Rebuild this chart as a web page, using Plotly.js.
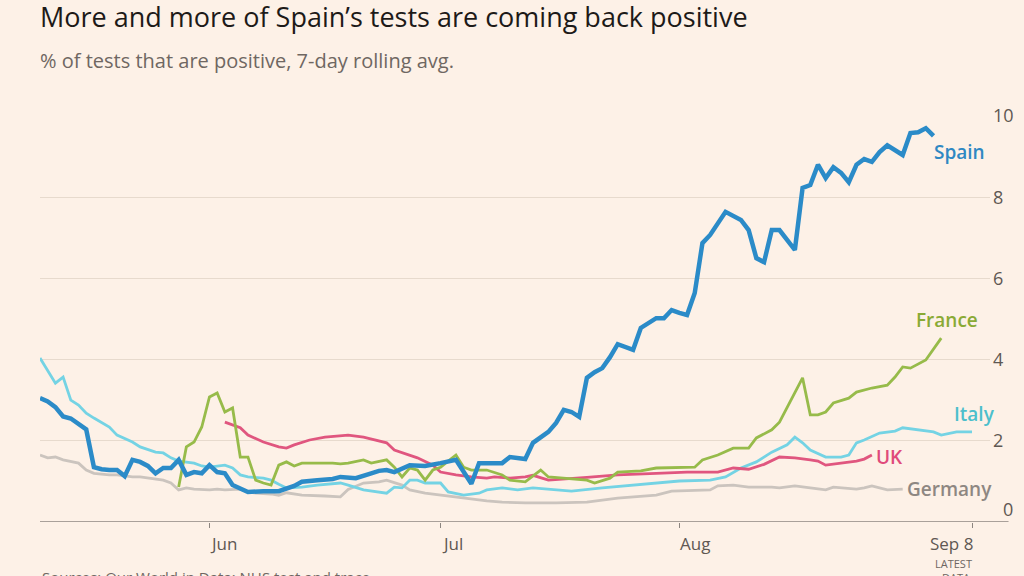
<!DOCTYPE html>
<html>
<head>
<meta charset="utf-8">
<script src="https://cdn.plot.ly/plotly-3.0.1.min.js"></script>
<style>
  html, body { margin: 0; padding: 0; background: #fdf1e7; }
  #chart { width: 1024px; height: 576px; }
</style>
</head>
<body>
<div id="chart"></div>
<script>
// ---------- DATA ----------
const spainDates = ["2020-05-10","2020-05-11","2020-05-12","2020-05-13","2020-05-14","2020-05-15","2020-05-16","2020-05-17","2020-05-18","2020-05-19","2020-05-20","2020-05-21","2020-05-22","2020-05-23","2020-05-24","2020-05-25","2020-05-26","2020-05-27","2020-05-28","2020-05-29","2020-05-30","2020-05-31","2020-06-01","2020-06-02","2020-06-03","2020-06-04","2020-06-06","2020-06-08","2020-06-10","2020-06-12","2020-06-13","2020-06-15","2020-06-17","2020-06-18","2020-06-20","2020-06-22","2020-06-23","2020-06-24","2020-06-25","2020-06-27","2020-06-29","2020-07-01","2020-07-03","2020-07-05","2020-07-06","2020-07-08","2020-07-09","2020-07-10","2020-07-12","2020-07-13","2020-07-14","2020-07-15","2020-07-16","2020-07-17","2020-07-18","2020-07-19","2020-07-20","2020-07-21","2020-07-22","2020-07-23","2020-07-24","2020-07-25","2020-07-26","2020-07-27","2020-07-28","2020-07-29","2020-07-30","2020-07-31","2020-08-01","2020-08-02","2020-08-03","2020-08-04","2020-08-05","2020-08-06","2020-08-07","2020-08-09","2020-08-10","2020-08-11","2020-08-12","2020-08-13","2020-08-14","2020-08-16","2020-08-17","2020-08-18","2020-08-19","2020-08-20","2020-08-21","2020-08-22","2020-08-23","2020-08-24","2020-08-25","2020-08-26","2020-08-27","2020-08-28","2020-08-29","2020-08-30","2020-08-31","2020-09-01","2020-09-02","2020-09-03"];
const spainValues = [3.05,2.97,2.83,2.6,2.55,2.4,2.28,1.35,1.3,1.28,1.28,1.13,1.53,1.48,1.38,1.2,1.33,1.33,1.53,1.16,1.23,1.2,1.4,1.23,1.2,0.91,0.74,0.76,0.76,0.89,0.99,1.03,1.06,1.11,1.08,1.2,1.26,1.28,1.23,1.4,1.38,1.45,1.53,0.94,1.45,1.45,1.45,1.6,1.55,1.95,2.07,2.22,2.44,2.76,2.71,2.59,3.55,3.69,3.79,4.06,4.38,4.31,4.24,4.78,4.9,5.02,5.02,5.22,5.15,5.1,5.64,6.87,7.07,7.36,7.64,7.44,7.19,6.5,6.4,7.19,7.19,6.7,8.23,8.3,8.8,8.47,8.74,8.6,8.37,8.8,8.94,8.87,9.11,9.28,9.16,9.04,9.58,9.6,9.7,9.51];

const italyDates = ["2020-05-10","2020-05-11","2020-05-12","2020-05-13","2020-05-14","2020-05-15","2020-05-16","2020-05-17","2020-05-18","2020-05-19","2020-05-20","2020-05-22","2020-05-23","2020-05-25","2020-05-26","2020-05-27","2020-05-28","2020-05-30","2020-05-31","2020-06-01","2020-06-03","2020-06-04","2020-06-05","2020-06-06","2020-06-08","2020-06-09","2020-06-10","2020-06-11","2020-06-13","2020-06-15","2020-06-18","2020-06-19","2020-06-21","2020-06-23","2020-06-24","2020-06-25","2020-06-26","2020-06-27","2020-06-28","2020-06-29","2020-07-01","2020-07-02","2020-07-04","2020-07-06","2020-07-07","2020-07-09","2020-07-11","2020-07-13","2020-07-15","2020-07-18","2020-07-22","2020-07-25","2020-07-29","2020-08-01","2020-08-05","2020-08-07","2020-08-09","2020-08-11","2020-08-13","2020-08-15","2020-08-16","2020-08-17","2020-08-18","2020-08-20","2020-08-22","2020-08-23","2020-08-24","2020-08-25","2020-08-27","2020-08-29","2020-08-30","2020-09-01","2020-09-03","2020-09-04","2020-09-06","2020-09-08"];
const italyValues = [4.04,3.74,3.42,3.57,3.0,2.88,2.68,2.56,2.46,2.34,2.14,1.97,1.85,1.72,1.7,1.58,1.5,1.45,1.38,1.35,1.4,1.33,1.16,1.11,1.08,1.03,0.93,0.84,0.86,0.91,0.96,0.91,0.79,0.74,0.71,0.86,0.84,1.03,1.03,0.96,0.96,0.74,0.66,0.71,0.79,0.84,0.79,0.84,0.81,0.76,0.84,0.89,0.96,1.01,1.03,1.11,1.33,1.48,1.72,1.9,2.09,1.95,1.77,1.6,1.6,1.65,1.95,2.02,2.19,2.24,2.32,2.27,2.22,2.14,2.22,2.22];

const ukDates = ["2020-06-03","2020-06-05","2020-06-06","2020-06-08","2020-06-10","2020-06-11","2020-06-12","2020-06-14","2020-06-16","2020-06-18","2020-06-19","2020-06-21","2020-06-22","2020-06-24","2020-06-25","2020-06-27","2020-06-28","2020-06-30","2020-07-01","2020-07-03","2020-07-05","2020-07-07","2020-07-08","2020-07-10","2020-07-12","2020-07-13","2020-07-15","2020-07-20","2020-07-24","2020-07-29","2020-08-02","2020-08-06","2020-08-08","2020-08-10","2020-08-12","2020-08-14","2020-08-16","2020-08-18","2020-08-19","2020-08-20","2020-08-22","2020-08-24","2020-08-25","2020-08-26"];
const ukValues = [2.46,2.32,2.14,1.97,1.85,1.82,1.9,2.02,2.09,2.12,2.14,2.09,2.04,1.95,1.77,1.65,1.58,1.4,1.23,1.16,1.11,1.08,1.11,1.08,1.11,1.15,1.03,1.1,1.16,1.2,1.23,1.23,1.33,1.3,1.42,1.6,1.58,1.53,1.5,1.4,1.45,1.5,1.55,1.65];

const franceDates = ["2020-05-28","2020-05-29","2020-05-30","2020-05-31","2020-06-01","2020-06-02","2020-06-03","2020-06-04","2020-06-05","2020-06-06","2020-06-07","2020-06-08","2020-06-09","2020-06-10","2020-06-11","2020-06-12","2020-06-13","2020-06-15","2020-06-17","2020-06-18","2020-06-19","2020-06-21","2020-06-22","2020-06-24","2020-06-25","2020-06-26","2020-06-27","2020-06-28","2020-06-29","2020-06-30","2020-07-01","2020-07-03","2020-07-04","2020-07-05","2020-07-07","2020-07-09","2020-07-10","2020-07-12","2020-07-14","2020-07-15","2020-07-17","2020-07-20","2020-07-21","2020-07-23","2020-07-24","2020-07-27","2020-07-29","2020-08-01","2020-08-03","2020-08-04","2020-08-06","2020-08-08","2020-08-10","2020-08-11","2020-08-13","2020-08-14","2020-08-16","2020-08-17","2020-08-18","2020-08-19","2020-08-20","2020-08-21","2020-08-23","2020-08-24","2020-08-26","2020-08-28","2020-08-29","2020-08-30","2020-08-31","2020-09-02","2020-09-04"];
const franceValues = [0.86,1.85,1.97,2.34,3.08,3.18,2.71,2.81,1.6,1.6,1.03,0.96,0.91,1.4,1.48,1.38,1.45,1.45,1.45,1.43,1.45,1.53,1.45,1.53,1.35,1.11,1.33,1.28,1.03,1.28,1.35,1.65,1.35,1.28,1.28,1.16,1.03,0.99,1.28,1.11,1.08,1.03,0.96,1.08,1.23,1.26,1.33,1.35,1.35,1.53,1.65,1.82,1.82,2.07,2.27,2.46,3.18,3.55,2.64,2.64,2.71,2.93,3.05,3.2,3.3,3.37,3.57,3.82,3.79,3.99,4.53];

const germanyDates = ["2020-05-10","2020-05-11","2020-05-12","2020-05-13","2020-05-15","2020-05-16","2020-05-17","2020-05-19","2020-05-20","2020-05-22","2020-05-23","2020-05-24","2020-05-26","2020-05-27","2020-05-28","2020-05-29","2020-05-30","2020-06-01","2020-06-02","2020-06-03","2020-06-05","2020-06-06","2020-06-07","2020-06-09","2020-06-10","2020-06-11","2020-06-13","2020-06-16","2020-06-18","2020-06-19","2020-06-21","2020-06-23","2020-06-24","2020-06-26","2020-06-27","2020-06-29","2020-07-01","2020-07-04","2020-07-07","2020-07-09","2020-07-12","2020-07-16","2020-07-20","2020-07-24","2020-07-29","2020-07-31","2020-08-05","2020-08-06","2020-08-08","2020-08-10","2020-08-13","2020-08-14","2020-08-16","2020-08-18","2020-08-20","2020-08-21","2020-08-24","2020-08-25","2020-08-26","2020-08-28","2020-08-30"];
const germanyValues = [1.65,1.58,1.6,1.53,1.45,1.28,1.2,1.16,1.16,1.11,1.11,1.08,1.03,0.96,0.79,0.84,0.81,0.79,0.81,0.79,0.81,0.74,0.71,0.69,0.66,0.72,0.66,0.64,0.62,0.8,0.96,0.99,1.03,0.91,0.79,0.71,0.66,0.59,0.52,0.49,0.47,0.47,0.49,0.59,0.66,0.76,0.79,0.89,0.91,0.86,0.86,0.84,0.89,0.84,0.79,0.86,0.81,0.84,0.89,0.79,0.81];

const yTickVals = [2, 4, 6, 8, 10];
const yTickText = ["2", "4", "6", "8", "10"];
const xTickVals = ["2020-06-01", "2020-07-01", "2020-08-01", "2020-09-08"];
const xTickText = ["Jun", "Jul", "Aug", "Sep 8"];

const seriesLabels = ["Spain", "France", "Italy", "UK", "Germany"];

// ---------- STYLE ----------
const bg = "#fdf1e7";
const FONT = "'Open Sans', 'Noto Sans', sans-serif";
const colors = {
  Spain: "#2b8bc8", France: "#97bb4a", Italy: "#74d3e4", UK: "#e0567f", Germany: "#cbc4be"
};
const labelColors = {
  Spain: "#2f88c3", France: "#8aaa35", Italy: "#4cbfcc", UK: "#e04a7b", Germany: "#8e8782"
};

function line(name, x, y, width) {
  return {
    type: "scatter", mode: "lines", name: name, x: x, y: y,
    line: { color: colors[name], width: width, shape: "linear" },
    hoverinfo: "skip", showlegend: false
  };
}

const traces = [
  line("Germany", germanyDates, germanyValues, 2.8),
  line("Italy", italyDates, italyValues, 2.8),
  line("UK", ukDates, ukValues, 2.8),
  line("France", franceDates, franceValues, 2.8),
  line("Spain", spainDates, spainValues, 4.5)
];

// label anchor positions (data coords) + pixel nudges
const labelPos = {
  Spain:   { x: "2020-09-03", y: 9.12, dx: -2 },
  France:  { x: "2020-08-31", y: 4.97, dx: 4 },
  Italy:   { x: "2020-09-06", y: 2.66, dx: -5 },
  UK:      { x: "2020-08-26", y: 1.6, dx: 2 },
  Germany: { x: "2020-08-30", y: 0.82, dx: 2 }
};

const annotations = [];
seriesLabels.forEach(function (s) {
  const p = labelPos[s];
  annotations.push({
    x: p.x, y: p.y, xref: "x", yref: "y", text: s, showarrow: false,
    xanchor: "left", yanchor: "middle", xshift: p.dx,
    font: { family: FONT, size: 19, color: labelColors[s], weight: 600 }
  });
});

// x tick labels
xTickVals.forEach(function (v, i) {
  const last = i === xTickVals.length - 1;
  annotations.push({
    x: v, y: 0, xref: "x", yref: "paper", text: xTickText[i], showarrow: false,
    xanchor: last ? "right" : "left", yanchor: "top", yshift: -8, xshift: last ? 3 : -1,
    font: { family: FONT, size: 17, color: "#5f5853" }
  });
});
annotations.push({
  x: xTickVals[3], y: 0, xref: "x", yref: "paper", text: "LATEST", showarrow: false,
  xanchor: "right", yanchor: "top", yshift: -32, xshift: 2,
  font: { family: FONT, size: 11, color: "#6f6762" }
});
annotations.push({
  x: xTickVals[3], y: 0, xref: "x", yref: "paper", text: "DATA", showarrow: false,
  xanchor: "right", yanchor: "top", yshift: -46, xshift: 0,
  font: { family: FONT, size: 11, color: "#6f6762" }
});
// zero label
annotations.push({
  x: 1, y: 0, xref: "paper", yref: "y", text: "0", showarrow: false,
  xanchor: "left", yanchor: "bottom", xshift: 11, yshift: -1,
  font: { family: FONT, size: 18, color: "#5f5853" }
});
// subtitle and source
annotations.push({
  xref: "paper", yref: "paper", x: 0, y: 1, xanchor: "left", yanchor: "middle",
  yshift: 116 - 60, xshift: -2, showarrow: false,
  text: "% of tests that are positive, 7-day rolling avg.",
  font: { family: FONT, size: 20, color: "#6f6762" }
});
annotations.push({
  xref: "paper", yref: "paper", x: 0, y: 0, xanchor: "left", yanchor: "top",
  yshift: -43, showarrow: false,
  text: "Sources: Our World in Data; NHS test and trace",
  font: { family: FONT, size: 15, color: "#6f6762" }
});

const layout = {
  width: 1024, height: 576,
  paper_bgcolor: bg, plot_bgcolor: bg,
  margin: { l: 40, r: 34, t: 116, b: 54, pad: 0 },
  font: { family: FONT, color: "#5f5853" },
  title: {
    text: "More and more of Spain\u2019s tests are coming back positive",
    x: 40 / 1024, xanchor: "left", xref: "container",
    y: 1 - 17.5 / 576, yanchor: "middle", yref: "container",
    font: { family: FONT, size: 27, color: "#1d1a18" }
  },
  xaxis: {
    type: "date",
    range: ["2020-05-10", "2020-09-10 08:00"],
    tickvals: xTickVals, ticktext: ["", "", "", ""],
    showticklabels: false,
    ticks: "outside", ticklen: 5, tickwidth: 1, tickcolor: "#8c8580",
    showgrid: false, zeroline: false, showline: false, fixedrange: true
  },
  yaxis: {
    range: [0, 10], side: "right",
    tickvals: yTickVals, ticktext: yTickText,
    tickfont: { family: FONT, size: 18, color: "#5f5853" },
    showgrid: true, gridcolor: "#e7dacd", gridwidth: 1,
    zeroline: false, showline: false, ticks: "", ticklabelstandoff: 2,
    fixedrange: true
  },
  shapes: [{
    type: "line", xref: "paper", yref: "y", x0: 0, x1: 1.0195, y0: 0, y1: 0,
    line: { color: "#8c8580", width: 1.6 }
  }],
  annotations: annotations
};

Plotly.newPlot("chart", traces, layout, { staticPlot: true, displayModeBar: false });
</script>
</body>
</html>
